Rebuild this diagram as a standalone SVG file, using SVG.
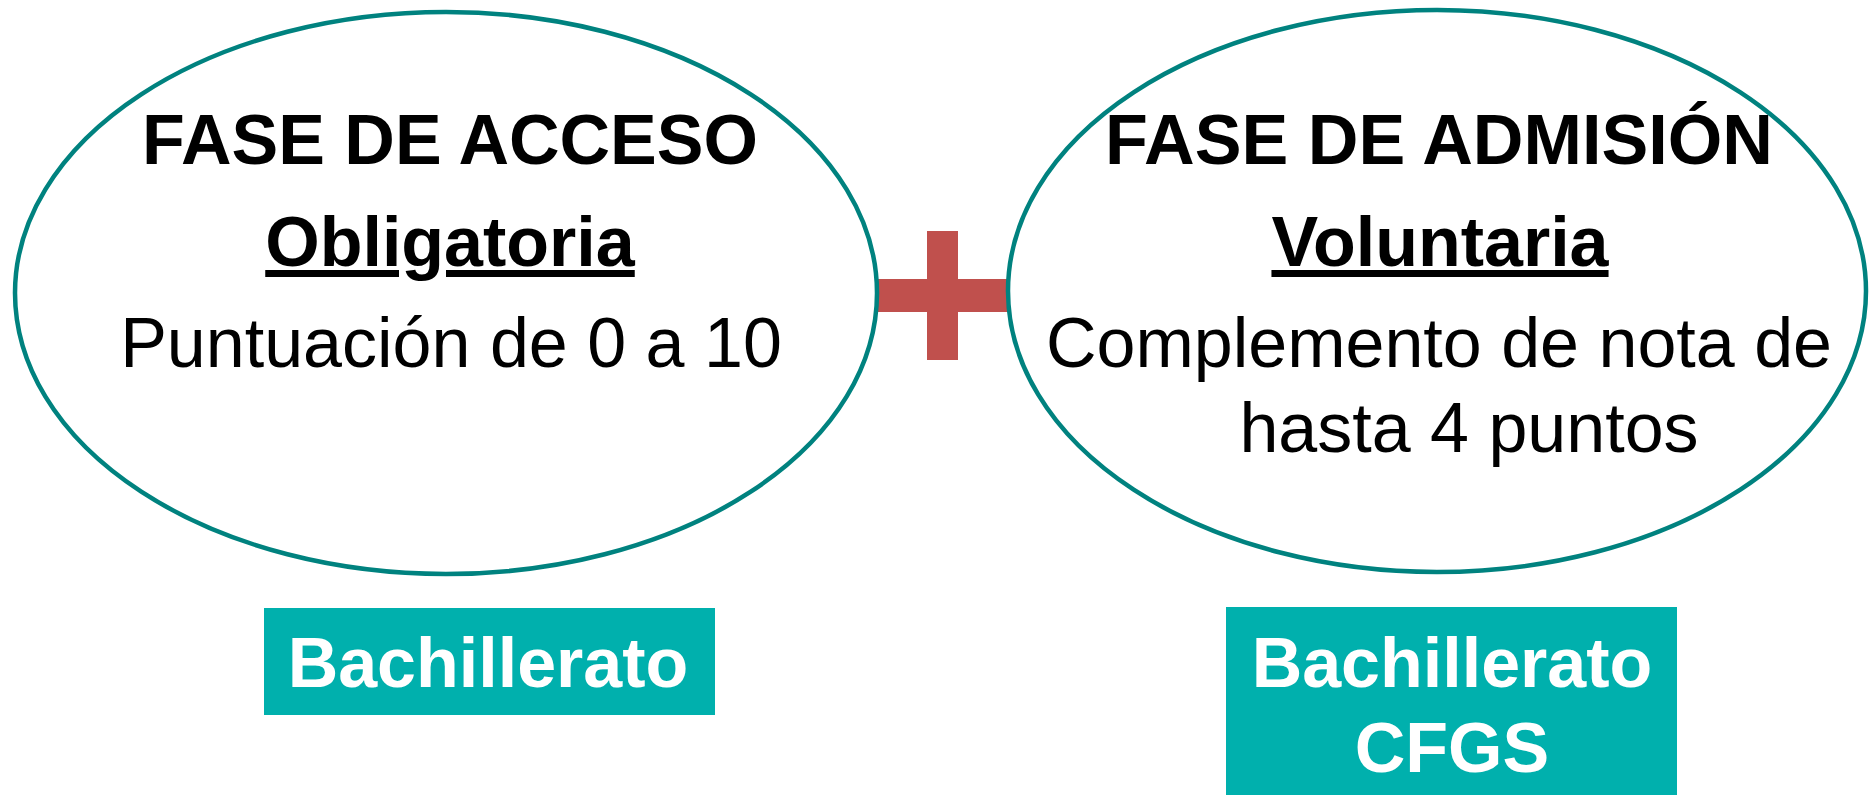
<svg xmlns="http://www.w3.org/2000/svg" width="1870" height="795" viewBox="0 0 1870 795">
<style>
.ell{fill:#fff;stroke:#00827F;stroke-width:4.5}
.t{font-family:"Liberation Sans",Arial,sans-serif;font-size:70px;text-anchor:middle;fill:#000}
.b{font-weight:bold}
.u{text-decoration:underline}
.box{fill:#00B0AD}
.w{fill:#fff;font-weight:bold}
.plus{fill:#C0504D}
</style>
<rect width="1870" height="795" fill="#fff"/>
<g id="connectors">
<g id="plus">
<rect class="plus" x="876" y="279" width="134" height="33"/>
<rect class="plus" x="927" y="231" width="31" height="129"/>
</g>
</g>
<g id="fase-acceso">
<ellipse class="ell" cx="446" cy="293" rx="431" ry="281"/>
<text class="t b" x="450" y="164">FASE DE ACCESO</text>
<text class="t b u" x="450" y="266">Obligatoria</text>
<text class="t" x="451" y="367">Puntuación de 0 a 10</text>
</g>
<g id="fase-admision">
<ellipse class="ell" cx="1437" cy="291" rx="429" ry="281"/>
<text class="t b" x="1439" y="164" textLength="668" lengthAdjust="spacingAndGlyphs">FASE DE ADMISIÓN</text>
<text class="t b u" x="1440" y="266">Voluntaria</text>
<text class="t" x="1439" y="367">Complemento de nota de</text>
<text class="t" x="1469" y="452">hasta 4 puntos</text>
</g>
<g id="bachillerato">
<rect class="box" x="264" y="608" width="451" height="107"/>
<text class="t w" x="488" y="687">Bachillerato</text>
</g>
<g id="bachillerato-cfgs">
<rect class="box" x="1226" y="607" width="451" height="188"/>
<text class="t w" x="1452" y="687">Bachillerato</text>
<text class="t w" x="1452" y="772">CFGS</text>
</g>
</svg>
